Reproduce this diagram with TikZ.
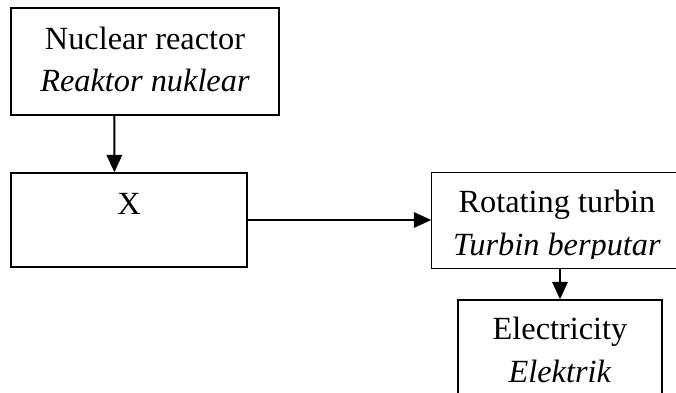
\documentclass[tikz,border=0pt]{standalone}
\usepackage{fontspec}
\setmainfont{Liberation Serif}
\usepackage{tikz}
\usetikzlibrary{arrows.meta,positioning}

\begin{document}
\begin{tikzpicture}[
  x=0.025cm, y=-0.025cm,
  box/.style={rectangle, draw, line width=0.9pt, align=center,
              inner sep=0pt, font=\fontsize{23}{30}\selectfont},
  arr/.style={-{Triangle[length=12.5pt,width=11pt]}, line width=1.4pt}
]
  \clip (0,0) rectangle (676,393);

  \node[box, minimum width=6.7cm, minimum height=2.675cm, text depth=0.1cm](react) at (145,61.5)
    {Nuclear reactor\\ \textit{Reaktor nuklear}};
  \node[box, minimum width=5.9cm, minimum height=2.35cm, text depth=0.8cm](xbox) at (129,220)
    {X};
  % text of the turbine box is cut off at the bottom
  \begin{scope}
    \clip (420,160) rectangle (690,258);
    \node[box, draw=none, minimum width=6.25cm, minimum height=2.375cm](turb) at (557,220.5)
      {\rule{0pt}{0.85cm}Rotating turbin\\ \textit{Turbin berputar}};
  \end{scope}
  \draw[line width=1pt](turb.north west) rectangle (turb.south east);
  \node[box, minimum width=5.1cm, minimum height=2.5cm](elec) at (560,350)
    {Electricity\\ \textit{Elektrik}};

  \draw[arr]([xshift=2.6cm]react.south west)--([xshift=2.6cm]xbox.north west);
  \draw[arr](xbox.east)--(xbox.east -| turb.west);
  \draw[arr](turb.south -| elec.north)--(elec.north);
\end{tikzpicture}
\end{document}
